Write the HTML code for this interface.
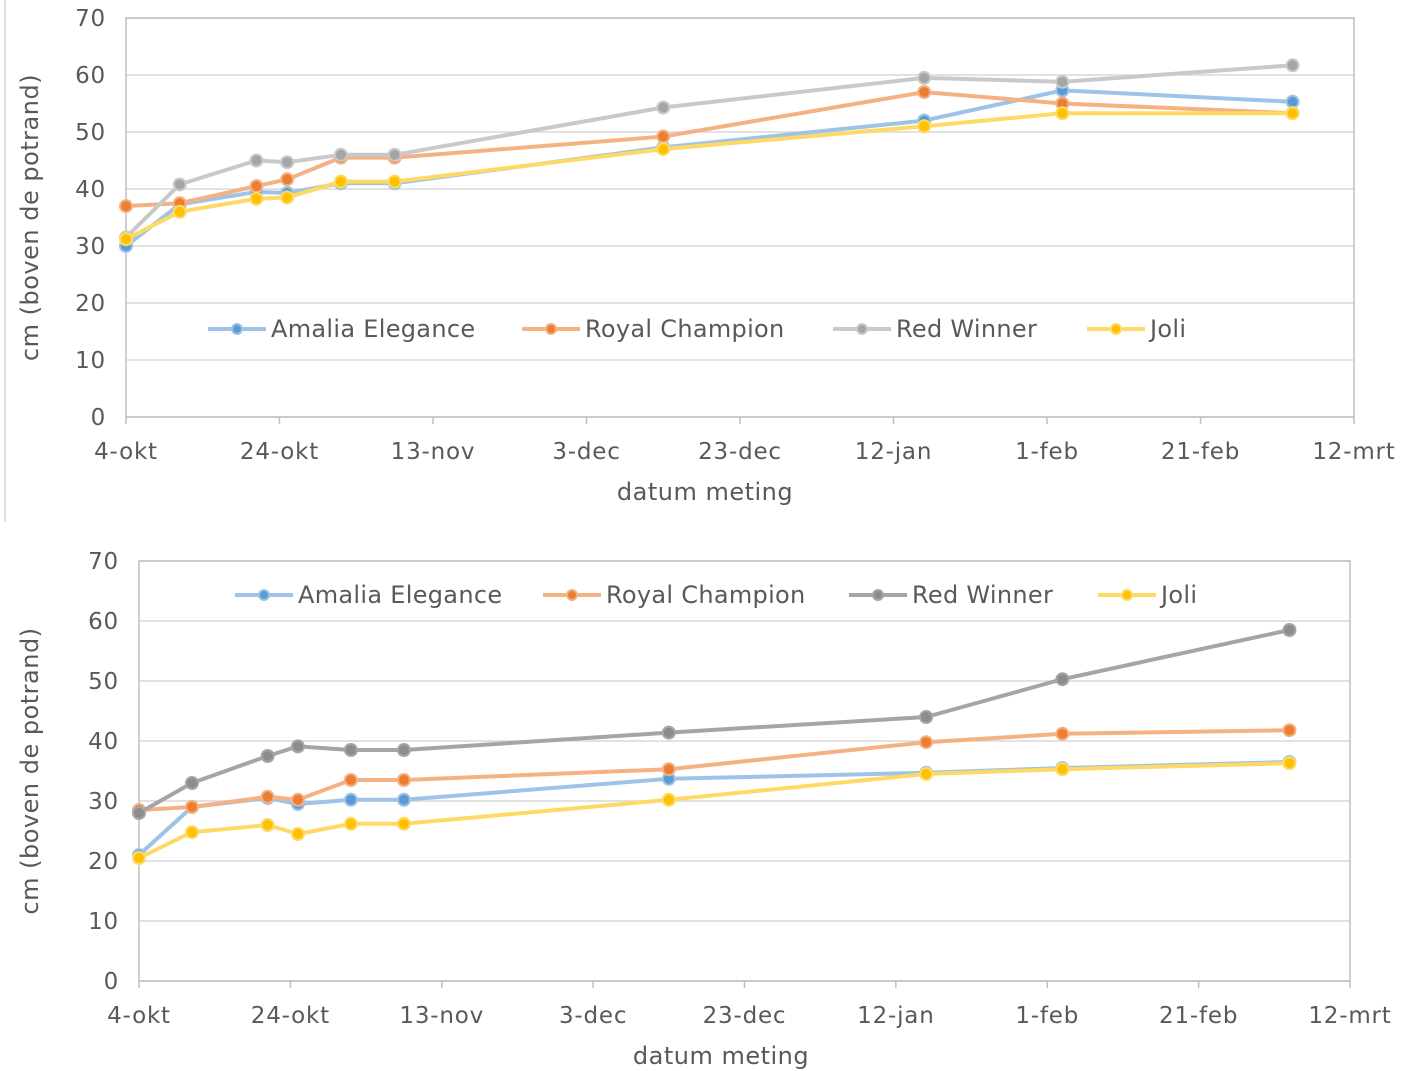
<!DOCTYPE html>
<html><head><meta charset="utf-8"><style>
html,body{margin:0;padding:0;background:#fff;}
svg{display:block;font-family:"DejaVu Sans","Liberation Sans",sans-serif;}
</style></head><body>
<svg id="chart" width="1401" height="1071" viewBox="0 0 1401 1071" xmlns="http://www.w3.org/2000/svg">
<line x1="5" y1="0" x2="5" y2="522" stroke="#d9d9d9" stroke-width="1.5"/>
</svg>
<script>
const dayOffsets=[0,7,17,21,28,35,70,104,122,152];
const xTickLabels=["4-okt","24-okt","13-nov","3-dec","23-dec","12-jan","1-feb","21-feb","12-mrt"];
const yTickValues=[0,10,20,30,40,50,60,70];
const seriesNames=["Amalia Elegance","Royal Champion","Red Winner","Joli"];
const topAmalia=[30,37.3,39.5,39.3,41,41,47.3,52,57.3,55.3];
const topRoyal=[37,37.5,40.5,41.7,45.5,45.5,49.2,57,55,53.3];
const topRed=[31.5,40.8,45,44.7,46,46,54.3,59.5,58.8,61.7];
const topJoli=[31.2,36,38.3,38.5,41.3,41.3,47,51,53.3,53.3];
const botAmalia=[21,29,30.5,29.5,30.2,30.2,33.7,34.7,35.5,36.5];
const botRoyal=[28.5,29,30.7,30.2,33.5,33.5,35.3,39.8,41.2,41.8];
const botRed=[28,33,37.5,39.1,38.5,38.5,41.4,44,50.3,58.5];
const botJoli=[20.5,24.8,26,24.5,26.2,26.2,30.2,34.5,35.3,36.3];

const NS="http://www.w3.org/2000/svg";
const svg=document.getElementById('chart');
function mk(tag,attrs,parent){const e=document.createElementNS(NS,tag);for(const k in attrs)e.setAttribute(k,attrs[k]);(parent||svg).appendChild(e);return e;}

function drawChart(cfg,prefix){
  const g=mk('g',{});
  
  
  const X=d=>cfg.left+(cfg.right-cfg.left)*d/160;
  const Y=v=>cfg.bottom-(cfg.bottom-cfg.top)*v/70;
  yTickValues.forEach(v=>{
    const l=mk('line',{x1:cfg.left,x2:cfg.right,y1:Y(v),y2:Y(v),stroke:'#d9d9d9','stroke-width':1.5},g);
    
    
    const t=mk('text',{x:cfg.left-20,y:Y(v)+8,'text-anchor':'end','font-size':23,'letter-spacing':0.8,fill:'#595959'},g);
    t.textContent=v;
    
    
  });
  const fr=mk('rect',{x:cfg.left,y:cfg.top,width:cfg.right-cfg.left,height:cfg.bottom-cfg.top,fill:'none',stroke:'#bfbfbf','stroke-width':1.5},g);
  
  
  xTickLabels.forEach((lab,i)=>{
    const x=X(i*20);
    const tk=mk('line',{x1:x,x2:x,y1:cfg.bottom,y2:cfg.bottom+7,stroke:'#bfbfbf','stroke-width':1.5},g);
    
    
    const t=mk('text',{x:x,y:cfg.bottom+42,'text-anchor':'middle','font-size':23,'letter-spacing':0.8,fill:'#595959'},g);
    t.textContent=lab;
    
    
  });
  const xt=mk('text',{x:cfg.xTitleX,y:cfg.bottom+83,'text-anchor':'middle','font-size':24,'letter-spacing':0.5,fill:'#595959'},g);
  xt.textContent='datum meting';
  
  
  const cy=(cfg.top+cfg.bottom)/2;
  const yt=mk('text',{x:38,y:cy,'text-anchor':'middle','font-size':24,'letter-spacing':0.5,fill:'#595959',transform:'rotate(-90 38 '+cy+')'},g);
  yt.textContent='cm (boven de potrand)';
  
  
  cfg.series.forEach((s,si)=>{
    const pts=s.values.map((v,i)=>X(dayOffsets[i])+','+Y(v)).join(' ');
    const pl=mk('polyline',{points:pts,fill:'none',stroke:s.line,'stroke-width':4,'stroke-linejoin':'round'},g);
    
    
    s.values.forEach((v,i)=>{
      const c=mk('circle',{cx:X(dayOffsets[i]),cy:Y(v),r:6,fill:s.marker,stroke:s.line,'stroke-width':2},g);
      
      
    });
  });
  cfg.series.forEach((s,si)=>{
    const lx=cfg.legendX[si], ly=cfg.legendY;
    const lg=mk('g',{},g);
    
    
    mk('line',{x1:lx,x2:lx+58,y1:ly,y2:ly,stroke:s.line,'stroke-width':4},lg);
    mk('circle',{cx:lx+29,cy:ly,r:5,fill:s.marker,stroke:s.line,'stroke-width':2},lg);
    const t=mk('text',{x:lx+63,y:ly+8,'font-size':24,'letter-spacing':0.3,fill:'#595959'},lg);
    t.textContent=seriesNames[si];
  });
}
drawChart({left:126,right:1354,top:18,bottom:417,xTitleX:705,legendY:329,legendX:[208,522,833,1087],
  series:[{values:topAmalia,line:'#9DC3E6',marker:'#5B9BD5'},{values:topRoyal,line:'#F4B183',marker:'#ED7D31'},
  {values:topRed,line:'#C9C9C9',marker:'#A5A5A5'},{values:topJoli,line:'#FFD966',marker:'#FFC000'}]},'top');
drawChart({left:139,right:1350,top:561,bottom:981,xTitleX:721,legendY:595,legendX:[235,543,849,1098],
  series:[{values:botAmalia,line:'#9DC3E6',marker:'#5B9BD5'},{values:botRoyal,line:'#F4B183',marker:'#ED7D31'},
  {values:botRed,line:'#A5A5A5',marker:'#8C8C8C'},{values:botJoli,line:'#FFD966',marker:'#FFC000'}]},'bottom');
</script>
</body></html>
